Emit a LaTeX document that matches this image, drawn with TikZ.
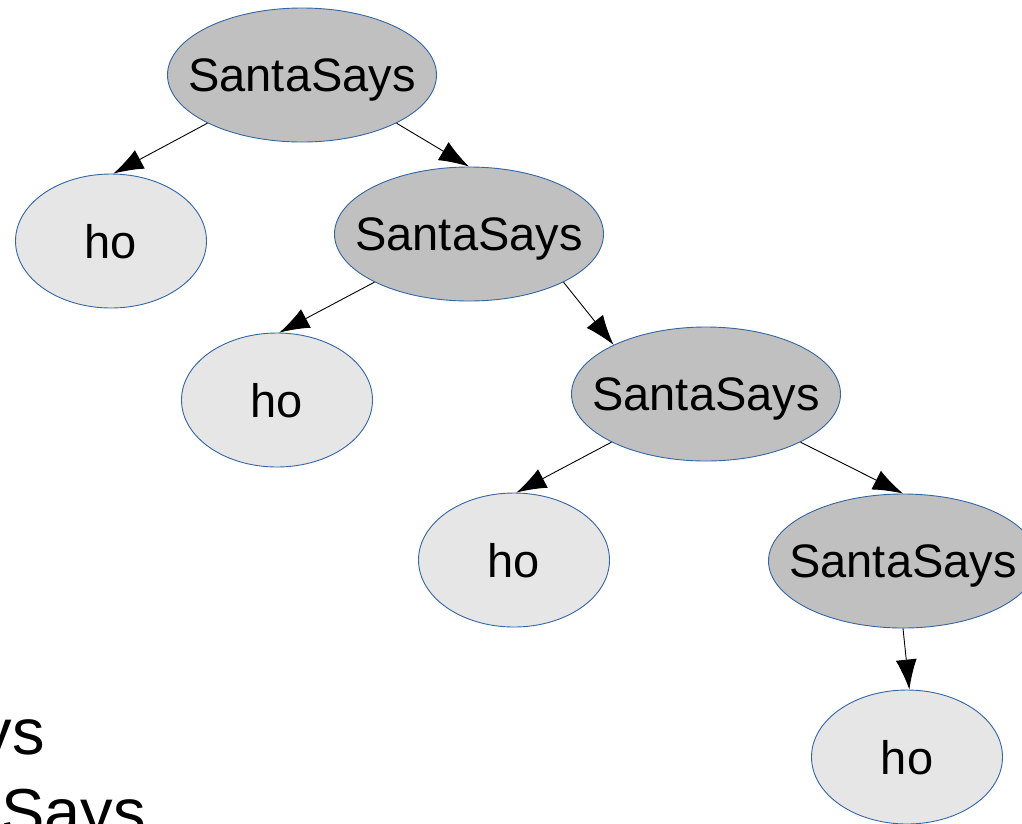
\documentclass[tikz,border=0pt]{standalone}
\usepackage{fontspec}
\setmainfont{Liberation Sans}
\usetikzlibrary{shapes.geometric,arrows.meta}
\definecolor{rim}{HTML}{3465A4}
\definecolor{santagray}{HTML}{C0C0C0}
\definecolor{hogray}{HTML}{E6E6E6}
\begin{document}
\begin{tikzpicture}[x=1pt,y=-1pt,
  say/.style={ellipse,draw=rim,fill=santagray,line width=0.9pt,minimum width=269pt,minimum height=134pt,inner ysep=0pt,inner xsep=-20pt,text depth=0pt,font=\fontsize{47}{56}\selectfont},
  hobox/.style={say,fill=hogray,minimum width=191pt},
  edge/.style={line width=0.9pt,-{Latex[length=30pt,width=21pt]}},
  big/.style={font=\fontsize{65}{80}\selectfont,inner sep=0pt}]
\useasboundingbox (0,0) rectangle (1022,823);
\clip (0,0) rectangle (1022,823);
% text running off the lower left corner
\node[big,anchor=base east] (lineA) at (45,754) {ys};
\node[big,anchor=base east] (lineB) at (146,834) {Says};
% the tree
\node[say] (s1) at (302,75) {SantaSays};
\node[hobox] (h1) at (111,241) {ho};
\node[say] (s2) at (469,234) {SantaSays};
\node[hobox] (h2) at (277,400) {ho};
\node[say] (s3) at (706,394) {SantaSays};
\node[hobox] (h3) at (514,560) {ho};
\node[say] (s4) at (903,561) {SantaSays};
\node[hobox] (h4) at (907,757) {ho};
\draw[edge] (s1.207) -- (h1.88);
\draw[edge] (s1.333) -- (s2.90);
\draw[edge] (s2.207) -- (h2.88);
\draw[edge] (s2.333) -- (s3.152);
\draw[edge] (s3.207) -- (h3.88);
\draw[edge] (s3.333) -- (s4.90);
\draw[edge] (s4.270) -- (h4.88);
\end{tikzpicture}
\end{document}
